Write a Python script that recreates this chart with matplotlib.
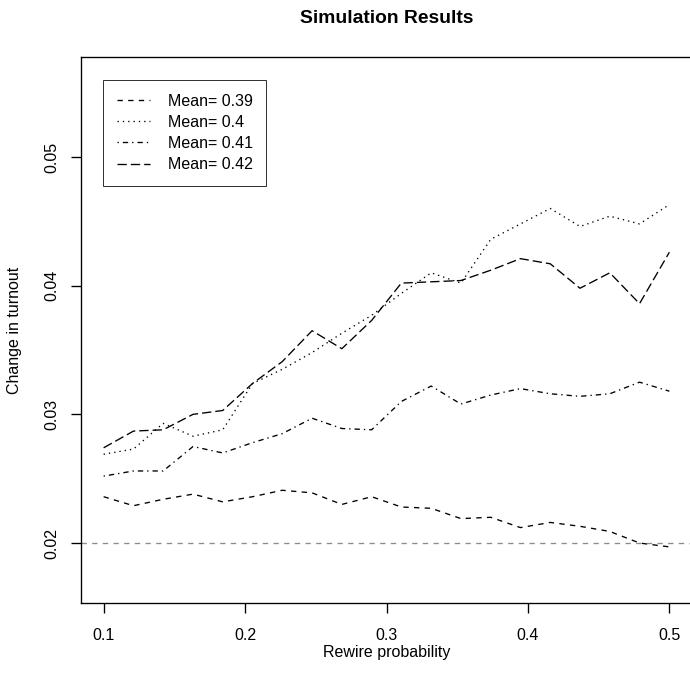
import numpy as np
import matplotlib
matplotlib.use("Agg")
import matplotlib.pyplot as plt

plt.rcParams.update({
    "font.family": ["Liberation Sans", "DejaVu Sans"],
    "font.size": 12,
    "axes.linewidth": 1.0,
})

# ---- data ----
rewire = [0.1, 0.1211, 0.1421, 0.1632, 0.1842, 0.2053, 0.2263, 0.2474, 0.2684, 0.2895,
          0.3105, 0.3316, 0.3526, 0.3737, 0.3947, 0.4158, 0.4368, 0.4579, 0.4789, 0.5]
mean_039 = [0.0236, 0.0229, 0.0234, 0.0238, 0.0232, 0.0236, 0.0241, 0.0239, 0.0230, 0.0236,
            0.0228, 0.0227, 0.0219, 0.0220, 0.0212, 0.0216, 0.0213, 0.0209, 0.0200, 0.0197]
mean_040 = [0.0269, 0.0273, 0.0293, 0.0283, 0.0288, 0.0324, 0.0335, 0.0348, 0.0363, 0.0377,
            0.0394, 0.0410, 0.0402, 0.0436, 0.0448, 0.0460, 0.0446, 0.0454, 0.0448, 0.0463]
mean_041 = [0.0252, 0.0256, 0.0256, 0.0275, 0.0270, 0.0278, 0.0285, 0.0297, 0.0289, 0.0288,
            0.0310, 0.0322, 0.0308, 0.0315, 0.0320, 0.0316, 0.0314, 0.0316, 0.0325, 0.0318]
mean_042 = [0.0274, 0.0287, 0.0288, 0.0300, 0.0303, 0.0324, 0.0341, 0.0365, 0.0351, 0.0373,
            0.0402, 0.0403, 0.0404, 0.0412, 0.0421, 0.0417, 0.0398, 0.0410, 0.0386, 0.0426]
labels = ["Mean= 0.39", "Mean= 0.4", "Mean= 0.41", "Mean= 0.42"]
baseline = 0.02

# R-style lty patterns: 2, 3, 4, 5
dashes = [(4, 4), (1, 3), (1, 3, 4, 3), (7, 3)]

W = H = 690
fig = plt.figure(figsize=(W / 96, H / 96), dpi=96)
ax = fig.add_axes([81 / W, 87 / H, 611 / W, 546 / H])

for ys, d, lab in zip([mean_039, mean_040, mean_041, mean_042], dashes, labels):
    ax.plot(rewire, ys, color="black", lw=1.0, dashes=d, label=lab)

ax.axhline(baseline, color="#8c8c8c", lw=1.0, dashes=(4, 4))

ax.set_xlim(0.084, 0.516)
ax.set_ylim(0.01534, 0.05777)
ax.set_xticks([0.1, 0.2, 0.3, 0.4, 0.5])
ax.set_xticklabels(["0.1", "0.2", "0.3", "0.4", "0.5"])
ax.set_yticks([0.02, 0.03, 0.04, 0.05])
ax.set_yticklabels(["0.02", "0.03", "0.04", "0.05"], rotation=90, va="center")
ax.tick_params(axis="both", length=7.2, width=1, color="black", labelsize=12)
ax.tick_params(axis="x", pad=11.5)
ax.tick_params(axis="y", pad=9)

ax.set_xlabel("Rewire probability", fontsize=12)
ax.set_ylabel("Change in turnout", fontsize=12)
ax.xaxis.set_label_coords(0.5, -0.077)
ax.yaxis.set_label_coords(-0.097, 0.5)
ax.set_title("Simulation Results", fontsize=14.4, fontweight="bold", pad=25.3)

leg = ax.legend(loc="upper left", bbox_to_anchor=(0.036, 0.958), frameon=True,
                fancybox=False, edgecolor="black", fontsize=12,
                handlelength=2.1, handletextpad=1.1, labelspacing=0.39,
                borderpad=0.85, borderaxespad=0.0)
leg.get_frame().set_linewidth(0.75)

fig.savefig("out.png", dpi=96)
plt.close(fig)
